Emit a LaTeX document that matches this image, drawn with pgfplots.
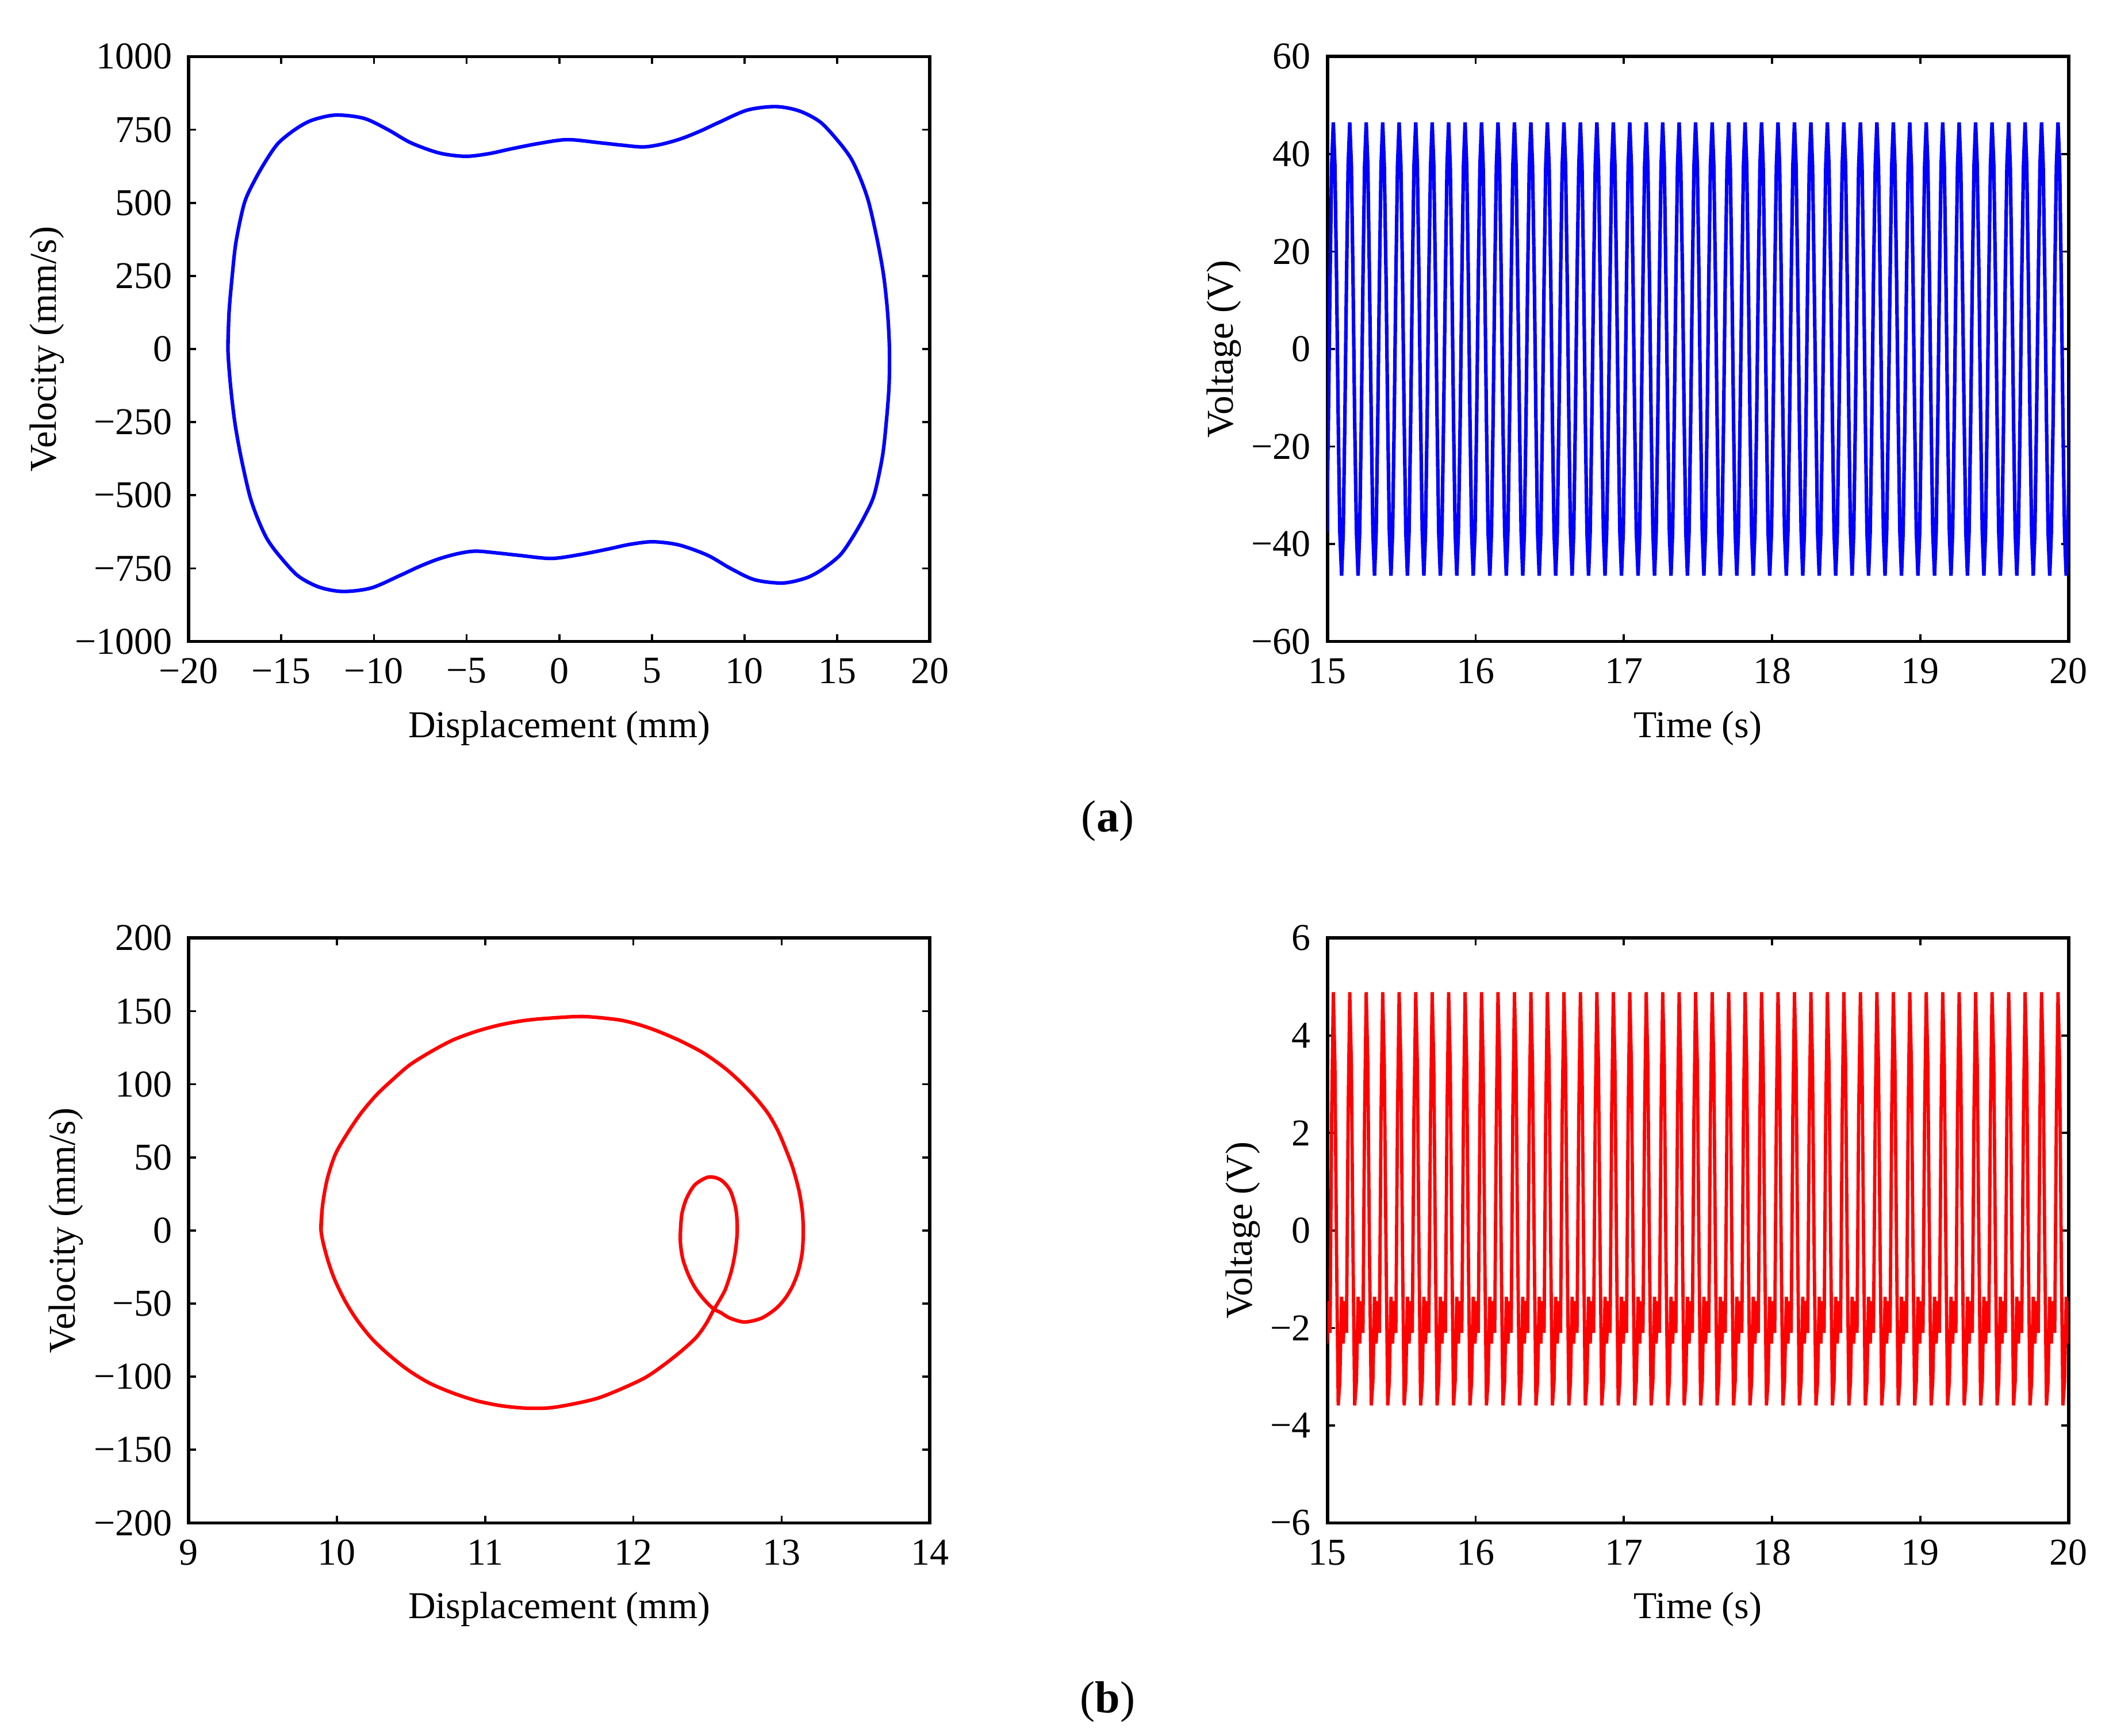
\documentclass[border=0pt]{standalone}
\usepackage{fontspec}
\setmainfont{Liberation Serif}
\usepackage{pgfplots}
\usepackage{pgfplotstable}
\pgfplotsset{compat=1.18}

\newcommand{\fsz}{\fontsize{8}{9.6}\selectfont}

% phase portrait (a): displacement (mm), velocity (mm/s)
\pgfplotstableread{
x v
-17.88 0
-17.82 125
-17.65 250
-17.44 368
-16.99 500
-16.42 579
-15.78 649
-15.15 705
-14.25 751
-13.36 782
-12.08 800
-10.55 789
-9.27 751
-8.0 705
-6.46 670
-5.05 659
-3.8 668
-2.63 684
-1.1 703
0.44 716
2.23 705
3.4 697
4.53 691
5.5 700
6.57 719
7.6 745
8.62 775
10.15 817
11.68 829
12.96 814
14.11 775
15.13 705
15.77 649
16.28 579
16.71 500
17.18 368
17.51 250
17.72 125
17.82 0
17.80 -125
17.65 -250
17.44 -368
16.99 -500
16.42 -579
15.78 -649
15.15 -705
14.25 -751
13.36 -782
12.08 -800
10.55 -789
9.27 -751
8.0 -705
6.46 -670
5.05 -659
3.8 -668
2.63 -684
1.1 -703
-0.44 -716
-2.23 -705
-3.4 -697
-4.53 -691
-5.5 -700
-6.57 -719
-7.6 -745
-8.62 -775
-10.15 -817
-11.68 -829
-12.96 -814
-14.11 -775
-15.13 -705
-15.77 -649
-16.28 -579
-16.71 -500
-17.18 -368
-17.51 -250
-17.74 -125
-17.88 0
-17.82 125
}\phasea

% phase portrait (b)
\pgfplotstableread{
x v
9.893 0
9.903 16.9
9.935 35.2
9.990 52.2
10.071 66.5
10.162 80.1
10.266 92.6
10.380 103.5
10.494 113.4
10.640 122.6
10.786 130.4
10.948 136.4
11.110 140.8
11.273 143.7
11.435 145.2
11.662 146.3
11.890 144.2
12.019 141.3
12.149 136.9
12.312 129.9
12.474 121.3
12.620 110.8
12.734 100.4
12.831 90.0
12.912 79.5
12.977 67.8
13.026 56.1
13.075 43.0
13.117 27.4
13.140 13.0
13.146 0
13.140 -14.3
13.114 -27.4
13.075 -37.8
13.026 -46.2
12.961 -53.5
12.864 -60.0
12.750 -62.6
12.653 -60.0
12.588 -56.1
12.539 -53.5
12.474 -46.9
12.416 -39.1
12.370 -30.0
12.334 -19.6
12.318 -9.1
12.318 0
12.328 11.7
12.360 22.2
12.416 31.3
12.506 36.5
12.588 34.7
12.653 27.4
12.692 14.3
12.701 0
12.688 -14.3
12.662 -27.4
12.620 -40.4
12.571 -49.5
12.539 -54.8
12.490 -63.9
12.425 -73.0
12.328 -82.1
12.214 -91.3
12.084 -100.4
11.922 -108.2
11.760 -114.7
11.597 -118.6
11.435 -121.3
11.273 -121.5
11.110 -119.9
10.948 -116.6
10.786 -111.3
10.623 -104.3
10.477 -95.2
10.347 -84.7
10.234 -73.8
10.136 -61.3
10.055 -48.2
9.981 -32.6
9.929 -16.9
9.893 0
9.903 16.9
}\phaseb

% voltage time series: t (s), b = case (a) (V), r = case (b) (V)
\pgfplotstableread[row sep=\\]{
t b r \\
14.996 -37.6 -2.32 \\ 15.007 -14.4 -1.45 \\ 15.018 14.4 -2.1 \\ 15.029 37.6 2.4 \\
15.040 46.5 4.89 \\ 15.051 37.6 3.4 \\ 15.062 14.4 -0.5 \\ 15.073 -14.4 -3.59 \\ 15.084 -37.6 -3.1 \\ 15.096 -46.5 -1.36 \\ 15.107 -37.6 -2.32 \\ 15.118 -14.4 -1.45 \\ 15.129 14.4 -2.1 \\ 15.140 37.6 2.4 \\
15.151 46.5 4.89 \\ 15.162 37.6 3.4 \\ 15.173 14.4 -0.5 \\ 15.184 -14.4 -3.59 \\ 15.196 -37.6 -3.1 \\ 15.207 -46.5 -1.36 \\ 15.218 -37.6 -2.32 \\ 15.229 -14.4 -1.45 \\ 15.240 14.4 -2.1 \\ 15.251 37.6 2.4 \\
15.262 46.5 4.89 \\ 15.273 37.6 3.4 \\ 15.284 14.4 -0.5 \\ 15.296 -14.4 -3.59 \\ 15.307 -37.6 -3.1 \\ 15.318 -46.5 -1.36 \\ 15.329 -37.6 -2.32 \\ 15.340 -14.4 -1.45 \\ 15.351 14.4 -2.1 \\ 15.362 37.6 2.4 \\
15.373 46.5 4.89 \\ 15.384 37.6 3.4 \\ 15.396 14.4 -0.5 \\ 15.407 -14.4 -3.59 \\ 15.418 -37.6 -3.1 \\ 15.429 -46.5 -1.36 \\ 15.440 -37.6 -2.32 \\ 15.451 -14.4 -1.45 \\ 15.462 14.4 -2.1 \\ 15.473 37.6 2.4 \\
15.484 46.5 4.89 \\ 15.496 37.6 3.4 \\ 15.507 14.4 -0.5 \\ 15.518 -14.4 -3.59 \\ 15.529 -37.6 -3.1 \\ 15.540 -46.5 -1.36 \\ 15.551 -37.6 -2.32 \\ 15.562 -14.4 -1.45 \\ 15.573 14.4 -2.1 \\ 15.584 37.6 2.4 \\
15.596 46.5 4.89 \\ 15.607 37.6 3.4 \\ 15.618 14.4 -0.5 \\ 15.629 -14.4 -3.59 \\ 15.640 -37.6 -3.1 \\ 15.651 -46.5 -1.36 \\ 15.662 -37.6 -2.32 \\ 15.673 -14.4 -1.45 \\ 15.684 14.4 -2.1 \\ 15.696 37.6 2.4 \\
15.707 46.5 4.89 \\ 15.718 37.6 3.4 \\ 15.729 14.4 -0.5 \\ 15.740 -14.4 -3.59 \\ 15.751 -37.6 -3.1 \\ 15.762 -46.5 -1.36 \\ 15.773 -37.6 -2.32 \\ 15.784 -14.4 -1.45 \\ 15.796 14.4 -2.1 \\ 15.807 37.6 2.4 \\
15.818 46.5 4.89 \\ 15.829 37.6 3.4 \\ 15.840 14.4 -0.5 \\ 15.851 -14.4 -3.59 \\ 15.862 -37.6 -3.1 \\ 15.873 -46.5 -1.36 \\ 15.884 -37.6 -2.32 \\ 15.896 -14.4 -1.45 \\ 15.907 14.4 -2.1 \\ 15.918 37.6 2.4 \\
15.929 46.5 4.89 \\ 15.940 37.6 3.4 \\ 15.951 14.4 -0.5 \\ 15.962 -14.4 -3.59 \\ 15.973 -37.6 -3.1 \\ 15.984 -46.5 -1.36 \\ 15.996 -37.6 -2.32 \\ 16.007 -14.4 -1.45 \\ 16.018 14.4 -2.1 \\ 16.029 37.6 2.4 \\
16.040 46.5 4.89 \\ 16.051 37.6 3.4 \\ 16.062 14.4 -0.5 \\ 16.073 -14.4 -3.59 \\ 16.084 -37.6 -3.1 \\ 16.096 -46.5 -1.36 \\ 16.107 -37.6 -2.32 \\ 16.118 -14.4 -1.45 \\ 16.129 14.4 -2.1 \\ 16.140 37.6 2.4 \\
16.151 46.5 4.89 \\ 16.162 37.6 3.4 \\ 16.173 14.4 -0.5 \\ 16.184 -14.4 -3.59 \\ 16.196 -37.6 -3.1 \\ 16.207 -46.5 -1.36 \\ 16.218 -37.6 -2.32 \\ 16.229 -14.4 -1.45 \\ 16.240 14.4 -2.1 \\ 16.251 37.6 2.4 \\
16.262 46.5 4.89 \\ 16.273 37.6 3.4 \\ 16.284 14.4 -0.5 \\ 16.296 -14.4 -3.59 \\ 16.307 -37.6 -3.1 \\ 16.318 -46.5 -1.36 \\ 16.329 -37.6 -2.32 \\ 16.340 -14.4 -1.45 \\ 16.351 14.4 -2.1 \\ 16.362 37.6 2.4 \\
16.373 46.5 4.89 \\ 16.384 37.6 3.4 \\ 16.396 14.4 -0.5 \\ 16.407 -14.4 -3.59 \\ 16.418 -37.6 -3.1 \\ 16.429 -46.5 -1.36 \\ 16.440 -37.6 -2.32 \\ 16.451 -14.4 -1.45 \\ 16.462 14.4 -2.1 \\ 16.473 37.6 2.4 \\
16.484 46.5 4.89 \\ 16.496 37.6 3.4 \\ 16.507 14.4 -0.5 \\ 16.518 -14.4 -3.59 \\ 16.529 -37.6 -3.1 \\ 16.540 -46.5 -1.36 \\ 16.551 -37.6 -2.32 \\ 16.562 -14.4 -1.45 \\ 16.573 14.4 -2.1 \\ 16.584 37.6 2.4 \\
16.596 46.5 4.89 \\ 16.607 37.6 3.4 \\ 16.618 14.4 -0.5 \\ 16.629 -14.4 -3.59 \\ 16.640 -37.6 -3.1 \\ 16.651 -46.5 -1.36 \\ 16.662 -37.6 -2.32 \\ 16.673 -14.4 -1.45 \\ 16.684 14.4 -2.1 \\ 16.696 37.6 2.4 \\
16.707 46.5 4.89 \\ 16.718 37.6 3.4 \\ 16.729 14.4 -0.5 \\ 16.740 -14.4 -3.59 \\ 16.751 -37.6 -3.1 \\ 16.762 -46.5 -1.36 \\ 16.773 -37.6 -2.32 \\ 16.784 -14.4 -1.45 \\ 16.796 14.4 -2.1 \\ 16.807 37.6 2.4 \\
16.818 46.5 4.89 \\ 16.829 37.6 3.4 \\ 16.840 14.4 -0.5 \\ 16.851 -14.4 -3.59 \\ 16.862 -37.6 -3.1 \\ 16.873 -46.5 -1.36 \\ 16.884 -37.6 -2.32 \\ 16.896 -14.4 -1.45 \\ 16.907 14.4 -2.1 \\ 16.918 37.6 2.4 \\
16.929 46.5 4.89 \\ 16.940 37.6 3.4 \\ 16.951 14.4 -0.5 \\ 16.962 -14.4 -3.59 \\ 16.973 -37.6 -3.1 \\ 16.984 -46.5 -1.36 \\ 16.996 -37.6 -2.32 \\ 17.007 -14.4 -1.45 \\ 17.018 14.4 -2.1 \\ 17.029 37.6 2.4 \\
17.040 46.5 4.89 \\ 17.051 37.6 3.4 \\ 17.062 14.4 -0.5 \\ 17.073 -14.4 -3.59 \\ 17.084 -37.6 -3.1 \\ 17.096 -46.5 -1.36 \\ 17.107 -37.6 -2.32 \\ 17.118 -14.4 -1.45 \\ 17.129 14.4 -2.1 \\ 17.140 37.6 2.4 \\
17.151 46.5 4.89 \\ 17.162 37.6 3.4 \\ 17.173 14.4 -0.5 \\ 17.184 -14.4 -3.59 \\ 17.196 -37.6 -3.1 \\ 17.207 -46.5 -1.36 \\ 17.218 -37.6 -2.32 \\ 17.229 -14.4 -1.45 \\ 17.240 14.4 -2.1 \\ 17.251 37.6 2.4 \\
17.262 46.5 4.89 \\ 17.273 37.6 3.4 \\ 17.284 14.4 -0.5 \\ 17.296 -14.4 -3.59 \\ 17.307 -37.6 -3.1 \\ 17.318 -46.5 -1.36 \\ 17.329 -37.6 -2.32 \\ 17.340 -14.4 -1.45 \\ 17.351 14.4 -2.1 \\ 17.362 37.6 2.4 \\
17.373 46.5 4.89 \\ 17.384 37.6 3.4 \\ 17.396 14.4 -0.5 \\ 17.407 -14.4 -3.59 \\ 17.418 -37.6 -3.1 \\ 17.429 -46.5 -1.36 \\ 17.440 -37.6 -2.32 \\ 17.451 -14.4 -1.45 \\ 17.462 14.4 -2.1 \\ 17.473 37.6 2.4 \\
17.484 46.5 4.89 \\ 17.496 37.6 3.4 \\ 17.507 14.4 -0.5 \\ 17.518 -14.4 -3.59 \\ 17.529 -37.6 -3.1 \\ 17.540 -46.5 -1.36 \\ 17.551 -37.6 -2.32 \\ 17.562 -14.4 -1.45 \\ 17.573 14.4 -2.1 \\ 17.584 37.6 2.4 \\
17.596 46.5 4.89 \\ 17.607 37.6 3.4 \\ 17.618 14.4 -0.5 \\ 17.629 -14.4 -3.59 \\ 17.640 -37.6 -3.1 \\ 17.651 -46.5 -1.36 \\ 17.662 -37.6 -2.32 \\ 17.673 -14.4 -1.45 \\ 17.684 14.4 -2.1 \\ 17.696 37.6 2.4 \\
17.707 46.5 4.89 \\ 17.718 37.6 3.4 \\ 17.729 14.4 -0.5 \\ 17.740 -14.4 -3.59 \\ 17.751 -37.6 -3.1 \\ 17.762 -46.5 -1.36 \\ 17.773 -37.6 -2.32 \\ 17.784 -14.4 -1.45 \\ 17.796 14.4 -2.1 \\ 17.807 37.6 2.4 \\
17.818 46.5 4.89 \\ 17.829 37.6 3.4 \\ 17.840 14.4 -0.5 \\ 17.851 -14.4 -3.59 \\ 17.862 -37.6 -3.1 \\ 17.873 -46.5 -1.36 \\ 17.884 -37.6 -2.32 \\ 17.896 -14.4 -1.45 \\ 17.907 14.4 -2.1 \\ 17.918 37.6 2.4 \\
17.929 46.5 4.89 \\ 17.940 37.6 3.4 \\ 17.951 14.4 -0.5 \\ 17.962 -14.4 -3.59 \\ 17.973 -37.6 -3.1 \\ 17.984 -46.5 -1.36 \\ 17.996 -37.6 -2.32 \\ 18.007 -14.4 -1.45 \\ 18.018 14.4 -2.1 \\ 18.029 37.6 2.4 \\
18.040 46.5 4.89 \\ 18.051 37.6 3.4 \\ 18.062 14.4 -0.5 \\ 18.073 -14.4 -3.59 \\ 18.084 -37.6 -3.1 \\ 18.096 -46.5 -1.36 \\ 18.107 -37.6 -2.32 \\ 18.118 -14.4 -1.45 \\ 18.129 14.4 -2.1 \\ 18.140 37.6 2.4 \\
18.151 46.5 4.89 \\ 18.162 37.6 3.4 \\ 18.173 14.4 -0.5 \\ 18.184 -14.4 -3.59 \\ 18.196 -37.6 -3.1 \\ 18.207 -46.5 -1.36 \\ 18.218 -37.6 -2.32 \\ 18.229 -14.4 -1.45 \\ 18.240 14.4 -2.1 \\ 18.251 37.6 2.4 \\
18.262 46.5 4.89 \\ 18.273 37.6 3.4 \\ 18.284 14.4 -0.5 \\ 18.296 -14.4 -3.59 \\ 18.307 -37.6 -3.1 \\ 18.318 -46.5 -1.36 \\ 18.329 -37.6 -2.32 \\ 18.340 -14.4 -1.45 \\ 18.351 14.4 -2.1 \\ 18.362 37.6 2.4 \\
18.373 46.5 4.89 \\ 18.384 37.6 3.4 \\ 18.396 14.4 -0.5 \\ 18.407 -14.4 -3.59 \\ 18.418 -37.6 -3.1 \\ 18.429 -46.5 -1.36 \\ 18.440 -37.6 -2.32 \\ 18.451 -14.4 -1.45 \\ 18.462 14.4 -2.1 \\ 18.473 37.6 2.4 \\
18.484 46.5 4.89 \\ 18.496 37.6 3.4 \\ 18.507 14.4 -0.5 \\ 18.518 -14.4 -3.59 \\ 18.529 -37.6 -3.1 \\ 18.540 -46.5 -1.36 \\ 18.551 -37.6 -2.32 \\ 18.562 -14.4 -1.45 \\ 18.573 14.4 -2.1 \\ 18.584 37.6 2.4 \\
18.596 46.5 4.89 \\ 18.607 37.6 3.4 \\ 18.618 14.4 -0.5 \\ 18.629 -14.4 -3.59 \\ 18.640 -37.6 -3.1 \\ 18.651 -46.5 -1.36 \\ 18.662 -37.6 -2.32 \\ 18.673 -14.4 -1.45 \\ 18.684 14.4 -2.1 \\ 18.696 37.6 2.4 \\
18.707 46.5 4.89 \\ 18.718 37.6 3.4 \\ 18.729 14.4 -0.5 \\ 18.740 -14.4 -3.59 \\ 18.751 -37.6 -3.1 \\ 18.762 -46.5 -1.36 \\ 18.773 -37.6 -2.32 \\ 18.784 -14.4 -1.45 \\ 18.796 14.4 -2.1 \\ 18.807 37.6 2.4 \\
18.818 46.5 4.89 \\ 18.829 37.6 3.4 \\ 18.840 14.4 -0.5 \\ 18.851 -14.4 -3.59 \\ 18.862 -37.6 -3.1 \\ 18.873 -46.5 -1.36 \\ 18.884 -37.6 -2.32 \\ 18.896 -14.4 -1.45 \\ 18.907 14.4 -2.1 \\ 18.918 37.6 2.4 \\
18.929 46.5 4.89 \\ 18.940 37.6 3.4 \\ 18.951 14.4 -0.5 \\ 18.962 -14.4 -3.59 \\ 18.973 -37.6 -3.1 \\ 18.984 -46.5 -1.36 \\ 18.996 -37.6 -2.32 \\ 19.007 -14.4 -1.45 \\ 19.018 14.4 -2.1 \\ 19.029 37.6 2.4 \\
19.040 46.5 4.89 \\ 19.051 37.6 3.4 \\ 19.062 14.4 -0.5 \\ 19.073 -14.4 -3.59 \\ 19.084 -37.6 -3.1 \\ 19.096 -46.5 -1.36 \\ 19.107 -37.6 -2.32 \\ 19.118 -14.4 -1.45 \\ 19.129 14.4 -2.1 \\ 19.140 37.6 2.4 \\
19.151 46.5 4.89 \\ 19.162 37.6 3.4 \\ 19.173 14.4 -0.5 \\ 19.184 -14.4 -3.59 \\ 19.196 -37.6 -3.1 \\ 19.207 -46.5 -1.36 \\ 19.218 -37.6 -2.32 \\ 19.229 -14.4 -1.45 \\ 19.240 14.4 -2.1 \\ 19.251 37.6 2.4 \\
19.262 46.5 4.89 \\ 19.273 37.6 3.4 \\ 19.284 14.4 -0.5 \\ 19.296 -14.4 -3.59 \\ 19.307 -37.6 -3.1 \\ 19.318 -46.5 -1.36 \\ 19.329 -37.6 -2.32 \\ 19.340 -14.4 -1.45 \\ 19.351 14.4 -2.1 \\ 19.362 37.6 2.4 \\
19.373 46.5 4.89 \\ 19.384 37.6 3.4 \\ 19.396 14.4 -0.5 \\ 19.407 -14.4 -3.59 \\ 19.418 -37.6 -3.1 \\ 19.429 -46.5 -1.36 \\ 19.440 -37.6 -2.32 \\ 19.451 -14.4 -1.45 \\ 19.462 14.4 -2.1 \\ 19.473 37.6 2.4 \\
19.484 46.5 4.89 \\ 19.496 37.6 3.4 \\ 19.507 14.4 -0.5 \\ 19.518 -14.4 -3.59 \\ 19.529 -37.6 -3.1 \\ 19.540 -46.5 -1.36 \\ 19.551 -37.6 -2.32 \\ 19.562 -14.4 -1.45 \\ 19.573 14.4 -2.1 \\ 19.584 37.6 2.4 \\
19.596 46.5 4.89 \\ 19.607 37.6 3.4 \\ 19.618 14.4 -0.5 \\ 19.629 -14.4 -3.59 \\ 19.640 -37.6 -3.1 \\ 19.651 -46.5 -1.36 \\ 19.662 -37.6 -2.32 \\ 19.673 -14.4 -1.45 \\ 19.684 14.4 -2.1 \\ 19.696 37.6 2.4 \\
19.707 46.5 4.89 \\ 19.718 37.6 3.4 \\ 19.729 14.4 -0.5 \\ 19.740 -14.4 -3.59 \\ 19.751 -37.6 -3.1 \\ 19.762 -46.5 -1.36 \\ 19.773 -37.6 -2.32 \\ 19.784 -14.4 -1.45 \\ 19.796 14.4 -2.1 \\ 19.807 37.6 2.4 \\
19.818 46.5 4.89 \\ 19.829 37.6 3.4 \\ 19.840 14.4 -0.5 \\ 19.851 -14.4 -3.59 \\ 19.862 -37.6 -3.1 \\ 19.873 -46.5 -1.36 \\ 19.884 -37.6 -2.32 \\ 19.896 -14.4 -1.45 \\ 19.907 14.4 -2.1 \\ 19.918 37.6 2.4 \\
19.929 46.5 4.89 \\ 19.940 37.6 3.4 \\ 19.951 14.4 -0.5 \\ 19.962 -14.4 -3.59 \\ 19.973 -37.6 -3.1 \\ 19.984 -46.5 -1.36 \\ 19.996 -37.6 -2.32 \\ 20.007 -14.4 -1.45 \\ 20.018 14.4 -2.1 \\
}\wave

\pgfplotsset{
    panel/.style={
        scale only axis,
        width=55mm, height=43.4mm,
        anchor=south west,
        axis line style={line width=0.7pt},
        every tick/.style={black, line width=0.45pt},
        major tick length=0.55mm,
        tick align=inside,
        tick label style={font=\fsz},
        label style={font=\fsz},
        ylabel shift=-1.65mm,
        xlabel shift=-0.4mm,
        clip=true,
    },
}

\begin{document}
\begin{tikzpicture}
\path (0,0) rectangle (156.8mm,128.8mm);

% (a) left: phase portrait
\begin{axis}[panel, at={(14mm,81.2mm)},
    xmin=-20, xmax=20, ymin=-1000, ymax=1000,
    xtick={-20,-15,...,20},
    xticklabels={−20,−15,−10,−5,0,5,10,15,20},
    ytick={-1000,-750,...,1000},
    yticklabels={−1000,−750,−500,−250,0,250,500,750,1000},
    xlabel={Displacement (mm)}, ylabel={Velocity (mm/s)}]
\addplot[blue, line width=0.75pt, smooth] table[x=x, y=v] {\phasea};
\end{axis}

% (a) right: voltage
\begin{axis}[panel, at={(98.5mm,81.2mm)},
    xmin=15, xmax=20, ymin=-60, ymax=60,
    xtick={15,...,20},
    xticklabels={15,16,17,18,19,20},
    ytick={-60,-40,...,60},
    yticklabels={−60,−40,−20,0,20,40,60},
    xlabel={Time (s)}, ylabel={Voltage (V)}]
\addplot[blue, line width=0.75pt] table[x=t, y=b] {\wave};
\end{axis}

% (b) left: phase portrait
\begin{axis}[panel, at={(14mm,15.8mm)},
    xmin=9, xmax=14, ymin=-200, ymax=200,
    xtick={9,...,14},
    xticklabels={9,10,11,12,13,14},
    ytick={-200,-150,...,200},
    yticklabels={−200,−150,−100,−50,0,50,100,150,200},
    xlabel={Displacement (mm)}, ylabel={Velocity (mm/s)}]
\addplot[red, line width=0.75pt, smooth] table[x=x, y=v] {\phaseb};
\end{axis}

% (b) right: voltage
\begin{axis}[panel, at={(98.5mm,15.8mm)},
    xmin=15, xmax=20, ymin=-6, ymax=6,
    xtick={15,...,20},
    xticklabels={15,16,17,18,19,20},
    ytick={-6,-4,...,6},
    yticklabels={−6,−4,−2,0,2,4,6},
    xlabel={Time (s)}, ylabel={Voltage (V)}]
\addplot[red, line width=0.7pt] table[x=t, y=r] {\wave};
\end{axis}

\node[inner sep=0pt, font=\fontsize{9.5}{11}\selectfont] at (82.2mm,67.9mm) {(\textbf{a})};
\node[inner sep=0pt, font=\fontsize{9.5}{11}\selectfont] at (82.2mm,2.5mm) {(\textbf{b})};
\end{tikzpicture}
\end{document}
